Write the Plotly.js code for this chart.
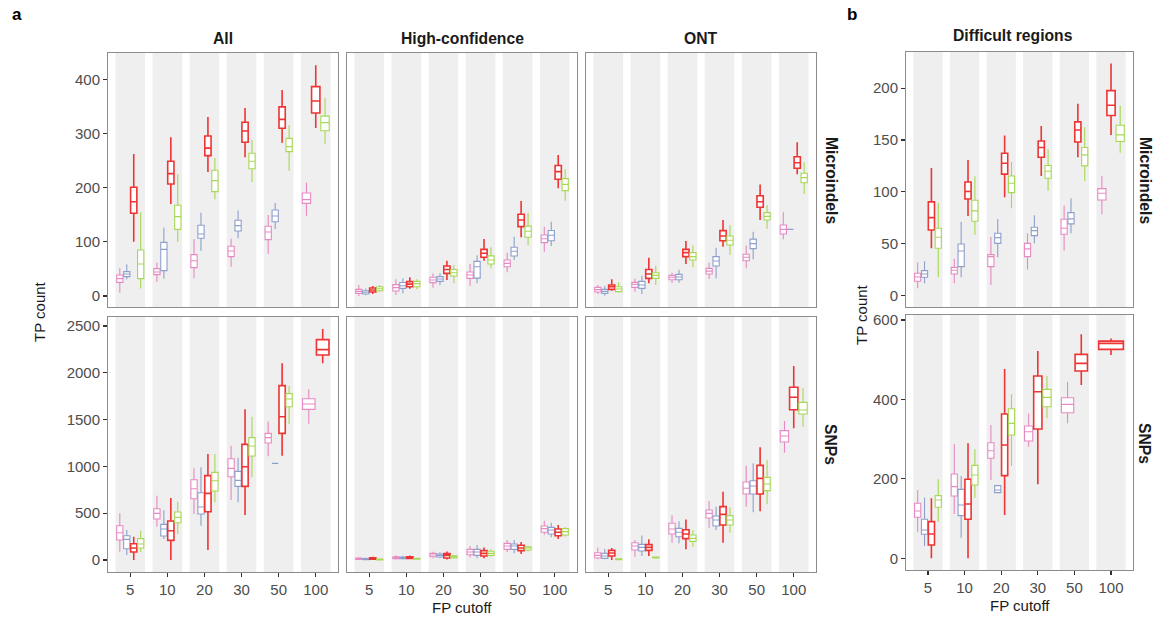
<!DOCTYPE html>
<html><head><meta charset="utf-8">
<script src="https://cdn.plot.ly/plotly-3.0.1.min.js"></script>
<style>html,body{margin:0;padding:0;background:#fff}#chart{width:1155px;height:629px}</style>
</head><body><div id="chart"></div>
<script>
// categories (FP cutoff)
const categories = ['5', '10', '20', '30', '50', '100'];
const seriesNames = ['pink', 'blue', 'red', 'green'];
const seriesColors = ['#E78AC3', '#8DA0CB', '#EE3434', '#A6D854'];
const seriesLineWidths = [1.1, 1.1, 1.6, 1.1];

// each entry: [lowerWhisker, q1, median, q3, upperWhisker]; null = absent

// ---- All / Microindels
const allMicroPink  = [[6,25.2,32,38.8,51],[26.5,39.4,44.3,50.5,61.5],[32.6,52.3,65.2,76.3,105],[54,72.6,83,91.7,105.8],[78,104,118,128.6,149.5],[148.3,171,177.8,190,209]];
const allMicroBlue  = [[30.8,35.7,40.6,45,58.5],[32,46.8,86,99,126],[83.7,106.5,114.5,130.5,153.8],[106.5,120,129.8,139.7,158],[123.7,137,147.7,158.8,171.7],null];
const allMicroRed   = [[100.3,152.6,174,200.6,262],[170,206.8,225.8,248.6,293],[229,259,273,295.4,330.5],[256,283.7,304.6,320.6,347],[283,309.5,326,349,380],[310,337.8,360,386.5,425.8]];
const allMicroGreen = [[14,32,59,85,154.5],[99.7,123,146.5,167.4,224.6],[178.5,192.6,213,232,254.8],[210.5,235,248.6,263.4,288],[231.4,266.5,275.7,291,315],[281,305,320,332,365]];

// ---- High-confidence / Microindels
const hcMicroPink  = [[0,4.9,8.6,12.3,20.3],[1.8,9.2,15.4,21,30.8],[15.4,24.6,29.5,34.5,41.8],[19,32.6,38.8,44.3,59],[43.7,54,60.3,66.5,80],[81.8,98.5,105.8,112.6,128]];
const hcMicroBlue  = [[1.2,3.7,6.8,9.8,14],[5,14,19,25,32.6],[20.3,27,31.4,35.7,41.8],[23.4,33,54,64,75],[66.5,73.8,82.5,90,109.5],[92.3,102,112,121,137]];
const hcMicroRed   = [[3.7,7.4,11,14.8,18.5],[13.5,17,22,26.5,34.5],[29.5,41.8,49,55.4,65],[65,71.4,78.8,86,105],[108.3,128,140.3,150.8,175.4],[198.8,215.4,229.5,241,260.3]];
const hcMicroGreen = [[8,9.8,13.5,17,20.3],[12.3,17,22.8,27,30.8],[23.4,37,43,49,57],[51,59,66.5,74,90],[93.5,108.3,119.4,129,153.8],[176,194.5,206,216.6,233.8]];

// ---- ONT / Microindels
const ontMicroPink  = [[3.7,7.4,11.7,16,20.3],[8,16,21.5,25.2,32],[24,30,34.5,38,43],[31.4,40.6,46,51,61.5],[51,65,71.4,77,93],[104.6,114.5,123,131,154.5]];
const ontMicroBlue  = [[0.6,4.9,8.6,12.3,19],[3.7,14,20.3,27,37.5],[24.6,30,35,40,48.6],[32.6,55.4,64.6,72.6,89],[67.7,87.4,96.6,105,118.8],[123,123,123,123,123]];
const ontMicroRed   = [[9.8,12.3,17.2,20.3,30.8],[23.4,32.6,40.6,49,70.8],[59,72.6,80,86,101.5],[91,102,110.8,120.6,140.3],[140.3,163.7,174,185,206],[224.6,235.7,246,257,284]];
const ontMicroGreen = [[6,8,13,17.2,25.2],[20.3,32.6,38,43,56],[53,66.5,72.6,80,93],[75.7,94,102.8,110.8,130.5],[124.3,140.3,147,153.8,168],[188.3,209,218.5,226.5,246.8]];

// ---- Difficult regions / Microindels
const diffMicroPink  = [[6.8,13.5,17.7,21.3,31.6],[11.6,20.6,24.2,27,35.4],[10,27.7,37.4,39.3,56.4],[25,37.4,44.8,50.2,60],[43.2,59,64.7,73.4,86.6],[78.3,92.1,98.6,103,115.3]];
const diffMicroBlue  = [[11.6,17.4,20.6,23.8,32.9],[17.4,27.7,42.8,49.6,70.9],[36.7,50.2,55.7,60,73.8],[50.2,57.6,62.5,65.7,77.3],[59.9,69,73.8,79.9,93.7],null];
const diffMicroRed   = [[45.4,63.1,75,90.2,123],[76.6,93,100.2,109.5,130.8],[94.7,117,127.5,137.2,154.3],[115.3,133.3,142.7,149,163.6],[133.3,148.1,159.7,167.5,184.9],[154.9,173.6,183.6,197.7,223.8]];
const diffMicroGreen = [[17.4,45.4,56,64.7,89.5],[58.6,71.5,81.5,91.8,115],[84,99.2,108.2,115.3,128.8],[101.1,113,119.8,125.3,141.4],[110.5,125,135.6,142.7,162.3],[137.8,148.5,155,164.3,183]];

// ---- All / SNPs
const allSnpPink  = [[89,213.7,292,366.8,498.5],[356,438,498.5,548.4,687.3],[491.4,655.2,762,858.2,979.3],[641,890,979.3,1082.5,1221.4],[1107.5,1250,1307,1353,1481],[1456.4,1609.6,1666.5,1723.5,1823]];
const allSnpBlue  = [[53.4,121,220.8,260,320.5],[224.3,256.4,331.2,381,530.6],[366.8,491.4,566.2,719.3,990],[616,787,851,947.2,1093.2],[1032.7,1032.7,1032.7,1032.7,1032.7],null];
const allSnpRed   = [[0,85.5,128.2,174.5,249.3],[0,210,313.4,416.6,662.3],[106.8,516.3,712.2,901,1132.4],[480.7,787,997,1235.7,1609.6],[1114.6,1353,1531,1862.4,2101],[2101,2190,2247,2354,2468]];
const allSnpGreen = [[85.5,128.2,171,228,313.4],[277.8,398.8,455.8,512.8,623],[616,737,847.5,936.5,1132.4],[883,1111,1218,1307,1531],[1453,1638,1720,1777,1855],null];

// ---- High-confidence / SNPs
const hcSnpPink  = [[0,5,12,20,30],[5,15,25,35,50],[18,35.6,53,71,89],[28,57,85,114,150],[85,114,150,178,214],[270,296,335,363,420]];
const hcSnpBlue  = [[0,4,10,17,28],[5,14,22,32,45],[18,32,50,64,82],[18,50,85,114,160],[71,114,150,171,214],[242,278,320,349,399]];
const hcSnpRed   = [[0,8,15,25,35],[8,18,25,35,48],[5,21,50,68,92],[18,43,71,100,135],[64,100,128,157,192],[224,260,296,331,374]];
const hcSnpGreen = [[0,2,6,10,14],[5,8,13,18,22],[18,21,36,46,53],[36,50,71,93,114],[93,107,128,142,150],[249,267,303,335,356]];

// ---- ONT / SNPs
const ontSnpPink  = [[7,21,50,78,135],[36,107,150,185,214],[185,278,331,392,477],[345,449,498,534,630],[570,705,766,833,1008],[1147,1261,1325,1382,1485]];
const ontSnpBlue  = [[7,18,43,71,118],[43,96,135,167,263],[178,249,296,338,413],[320,363,427,470,570],[509,705,790,847,1033],null];
const ontSnpRed   = [[0,43,75,103,128],[43,103,135,164,221],[114,228,278,324,434],[185,374,488,570,730],[520,705,872,1011,1204],[1407,1606,1738,1845,2072]];
const ontSnpGreen = [[0,3,7,12,14],[18,22,28,32,36],[142,199,231,267,320],[292,374,427,474,563],[595,741,812,883,1068],[1424,1560,1602,1684,1837]];

// ---- Difficult regions / SNPs
const diffSnpPink  = [[67.1,103.2,119.2,138.5,172],[111.6,157,180.4,212.3,287.8],[197.2,251.8,271,291.2,335.7],[281.1,295.4,318.9,333.2,365],[339.9,366.7,387.7,404.5,444.8],null];
const diffSnpBlue  = [[31,60.4,71.3,98.2,152.7],[52,107.4,134.3,173.7,207.3],[164.5,165.3,172,182.9,184.6],null,null,null];
const diffSnpRed   = [[0,33.6,61.3,92.3,151],[0,98.2,136.8,199,289.5],[109.1,208.1,285.3,363.4,476.7],[186.8,325.6,419.6,459,522],[436.4,471.6,490.9,513.6,564],[511.9,526.2,541.3,547.1,553.9]];
const diffSnpGreen = [[92.3,128.4,146.9,157.8,198.9],[152.7,184.6,209.8,234,274.4],[232.5,310.5,339.9,376.8,412.9],[352.5,381.8,405.3,425.5,459],null,null];

// tick values
const microTicks = [0, 100, 200, 300, 400];
const snpTicks = [0, 500, 1000, 1500, 2000, 2500];
const diffMicroTicks = [0, 50, 100, 150, 200];
const diffSnpTicks = [0, 200, 400, 600];

const W = 1155, H = 629;
const colA = [[108, 338], [347, 577], [586, 816]];
const colB = [906, 1133];
const rowA = [[53, 307], [317, 572]];
const rowB = [[52, 307], [315, 570]];

function xd(a) { return [a[0] / W, a[1] / W]; }
function yd(a) { return [1 - a[1] / H, 1 - a[0] / H]; }

const panels = [
  { x: colA[0], y: rowA[0], data: [allMicroPink, allMicroBlue, allMicroRed, allMicroGreen], range: [-20.3, 448.5], ticks: microTicks, showY: true, showX: false },
  { x: colA[1], y: rowA[0], data: [hcMicroPink, hcMicroBlue, hcMicroRed, hcMicroGreen], range: [-20.3, 448.5], ticks: microTicks, showY: false, showX: false },
  { x: colA[2], y: rowA[0], data: [ontMicroPink, ontMicroBlue, ontMicroRed, ontMicroGreen], range: [-20.3, 448.5], ticks: microTicks, showY: false, showX: false },
  { x: colB, y: rowB[0], data: [diffMicroPink, diffMicroBlue, diffMicroRed, diffMicroGreen], range: [-11.3, 235], ticks: diffMicroTicks, showY: true, showX: false },
  { x: colA[0], y: rowA[1], data: [allSnpPink, allSnpBlue, allSnpRed, allSnpGreen], range: [-128, 2596], ticks: snpTicks, showY: true, showX: true },
  { x: colA[1], y: rowA[1], data: [hcSnpPink, hcSnpBlue, hcSnpRed, hcSnpGreen], range: [-128, 2596], ticks: snpTicks, showY: false, showX: true },
  { x: colA[2], y: rowA[1], data: [ontSnpPink, ontSnpBlue, ontSnpRed, ontSnpGreen], range: [-128, 2596], ticks: snpTicks, showY: false, showX: true },
  { x: colB, y: rowB[1], data: [diffSnpPink, diffSnpBlue, diffSnpRed, diffSnpGreen], range: [-29.5, 612.8], ticks: diffSnpTicks, showY: true, showX: true }
];

const FONT = 'Arial, "Liberation Sans", Helvetica, sans-serif';
const traces = [];
const shapes = [];
const layout = {
  width: W, height: H, margin: { l: 0, r: 0, t: 0, b: 0 },
  paper_bgcolor: '#ffffff', plot_bgcolor: 'rgba(0,0,0,0)',
  showlegend: false, boxmode: 'overlay', font: { family: FONT },
  shapes: shapes, annotations: []
};

const DODGE = 0.75;
panels.forEach((p, i) => {
  const n = i + 1;
  const xa = n === 1 ? 'x' : 'x' + n;
  const ya = n === 1 ? 'y' : 'y' + n;
  const xk = n === 1 ? 'xaxis' : 'xaxis' + n;
  const yk = n === 1 ? 'yaxis' : 'yaxis' + n;
  layout[xk] = {
    domain: xd(p.x), anchor: ya, range: [-0.6, 5.6], fixedrange: true,
    showgrid: false, zeroline: false, showline: true, mirror: true,
    linecolor: '#8c8c8c', linewidth: 1,
    tickmode: 'array', tickvals: categories.map((c, k) => k), ticktext: categories,
    ticks: p.showX ? 'outside' : '', ticklen: 4, tickwidth: 1.2, tickcolor: '#333333',
    showticklabels: p.showX, tickfont: { size: 15, color: '#4d4d4d', family: FONT }
  };
  layout[yk] = {
    domain: yd(p.y), anchor: xa, range: p.range, fixedrange: true,
    showgrid: false, zeroline: false, showline: true, mirror: true,
    linecolor: '#8c8c8c', linewidth: 1,
    tickmode: 'array', tickvals: p.ticks,
    ticks: p.showY ? 'outside' : '', ticklen: 4, tickwidth: 1.2, tickcolor: '#333333',
    showticklabels: p.showY, tickfont: { size: 15, color: '#4d4d4d', family: FONT }
  };
  categories.forEach((c, k) => {
    shapes.push({ type: 'rect', xref: xa, yref: ya + ' domain', x0: k - 0.4, x1: k + 0.4, y0: 0, y1: 1,
      fillcolor: '#efefef', line: { width: 0 }, layer: 'below' });
    const present = [];
    p.data.forEach((s, si) => { if (s[k]) present.push(si); });
    const slot = DODGE / present.length;
    present.forEach((si, j) => {
      const v = p.data[si][k];
      traces.push({
        type: 'box', xaxis: xa, yaxis: ya,
        x: [k - DODGE / 2 + slot * (j + 0.5)],
        lowerfence: [v[0]], q1: [v[1]], median: [v[2]], q3: [v[3]], upperfence: [v[4]],
        width: slot * 0.9, whiskerwidth: 0,
        line: { color: seriesColors[si], width: seriesLineWidths[si] },
        fillcolor: '#ffffff', boxpoints: false, hoverinfo: 'skip', showlegend: false,
        name: seriesNames[si]
      });
    });
  });
});

const ann = layout.annotations;
function A(text, x, y, opts) {
  ann.push(Object.assign({ text: text, x: x / W, y: 1 - y / H, xref: 'paper', yref: 'paper',
    showarrow: false, xanchor: 'center', yanchor: 'middle',
    font: { family: FONT, size: 15.7, color: '#1a1a1a' } }, opts || {}));
}
const bold = s => '<b>' + s + '</b>';
A(bold('a'), 17, 14, { font: { family: FONT, size: 17, color: '#000' } });
A(bold('b'), 852, 14, { font: { family: FONT, size: 17, color: '#000' } });
A(bold('All'), 223, 38);
A(bold('High-confidence'), 462, 38);
A(bold('ONT'), 701, 38);
A(bold('Difficult regions'), 1013, 35);
A(bold('Microindels'), 831, 180, { textangle: 90 });
A(bold('SNPs'), 831, 444, { textangle: 90 });
A(bold('Microindels'), 1145, 180, { textangle: 90 });
A(bold('SNPs'), 1145, 443, { textangle: 90 });
A('TP count', 40, 312, { textangle: -90, font: { family: FONT, size: 15, color: '#1a1a1a' } });
A('TP count', 862, 315, { textangle: -90, font: { family: FONT, size: 15, color: '#1a1a1a' } });
A('FP cutoff', 462, 607, { font: { family: FONT, size: 15, color: '#1a1a1a' } });
A('FP cutoff', 1020, 605, { font: { family: FONT, size: 15, color: '#1a1a1a' } });

Plotly.newPlot('chart', traces, layout, { staticPlot: true, displayModeBar: false });
</script>
</body></html>
